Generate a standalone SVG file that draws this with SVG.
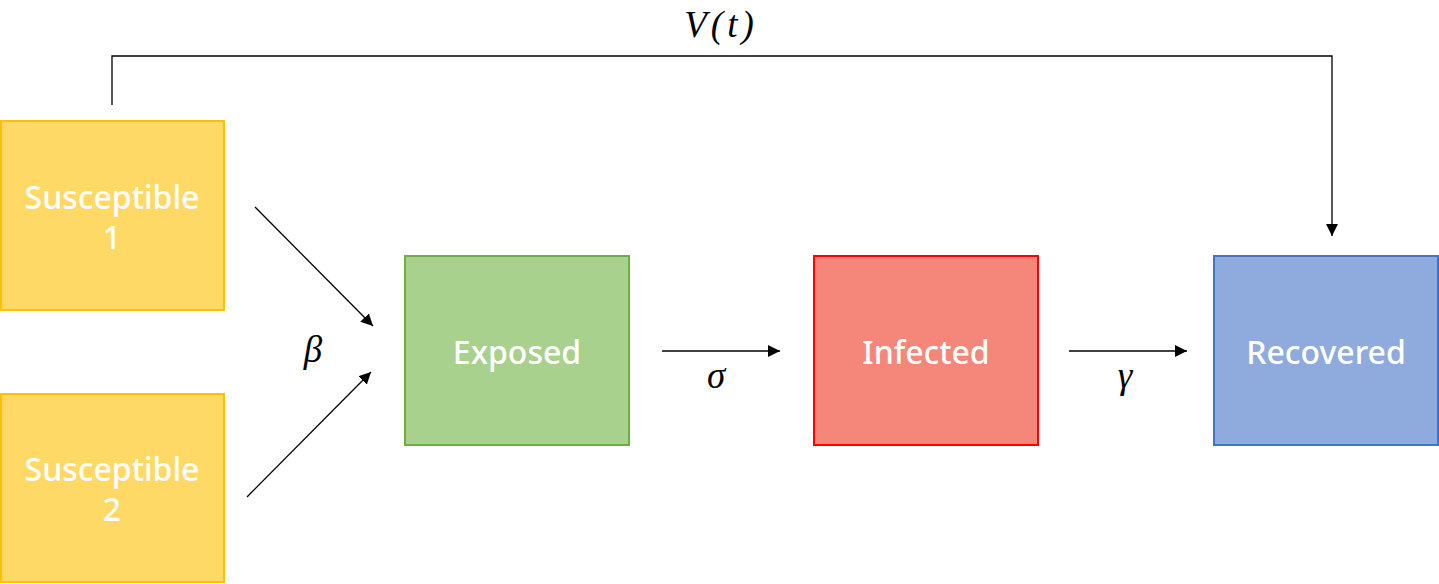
<svg xmlns="http://www.w3.org/2000/svg" width="1439" height="584" viewBox="0 0 1439 584">
<defs>
<marker id="ah" viewBox="0 0 10 10" refX="10" refY="5" markerWidth="12" markerHeight="12" markerUnits="userSpaceOnUse" orient="auto">
<path d="M0,0 L10,5 L0,10 z" fill="#000"/>
</marker>
</defs>
<style>
.box{stroke-width:2}
.lbl{font-family:"Noto Sans","Liberation Sans",sans-serif;font-size:32px;font-weight:500;fill:#fff;text-anchor:middle}
.math{font-family:"Liberation Serif","DejaVu Serif",serif;font-style:italic;font-size:37px;fill:#000;text-anchor:middle}
.con{stroke:#000;stroke-width:1.3;fill:none}
</style>
<rect width="1439" height="584" fill="#fff"/>
<g id="susceptible1">
<rect class="box" x="1" y="121" width="223" height="189" fill="#FFD966" stroke="#FFC000"/>
<text class="lbl" x="112" y="209">Susceptible</text>
<text class="lbl" x="112" y="249">1</text>
</g>
<g id="susceptible2">
<rect class="box" x="1" y="394" width="223" height="188" fill="#FFD966" stroke="#FFC000"/>
<text class="lbl" x="112" y="481">Susceptible</text>
<text class="lbl" x="112" y="521">2</text>
</g>
<g id="exposed">
<rect class="box" x="405" y="256" width="224" height="189" fill="#A9D18E" stroke="#70AD47"/>
<text class="lbl" x="517" y="364">Exposed</text>
</g>
<g id="infected">
<rect class="box" x="814" y="256" width="224" height="189" fill="#F4877A" stroke="#FF0000"/>
<text class="lbl" x="926" y="364">Infected</text>
</g>
<g id="recovered">
<rect class="box" x="1214" y="256" width="224" height="189" fill="#8FAADC" stroke="#4472C4"/>
<text class="lbl" x="1326" y="364">Recovered</text>
</g>
<g id="connectors">
<line class="con" x1="255" y1="207" x2="373" y2="326" marker-end="url(#ah)"/>
<line class="con" x1="247" y1="497" x2="371" y2="372" marker-end="url(#ah)"/>
<line class="con" x1="662" y1="351" x2="780" y2="351" marker-end="url(#ah)"/>
<line class="con" x1="1069" y1="351" x2="1187" y2="351" marker-end="url(#ah)"/>
<polyline class="con" points="112,105 112,56 1332,56 1332,236" marker-end="url(#ah)"/>
</g>
<g id="labels">
<text class="math" x="721" y="37" letter-spacing="4">V(t)</text>
<text class="math" x="313" y="362">β</text>
<text class="math" x="716" y="388">σ</text>
<text class="math" x="1125" y="388">γ</text>
</g>
</svg>
